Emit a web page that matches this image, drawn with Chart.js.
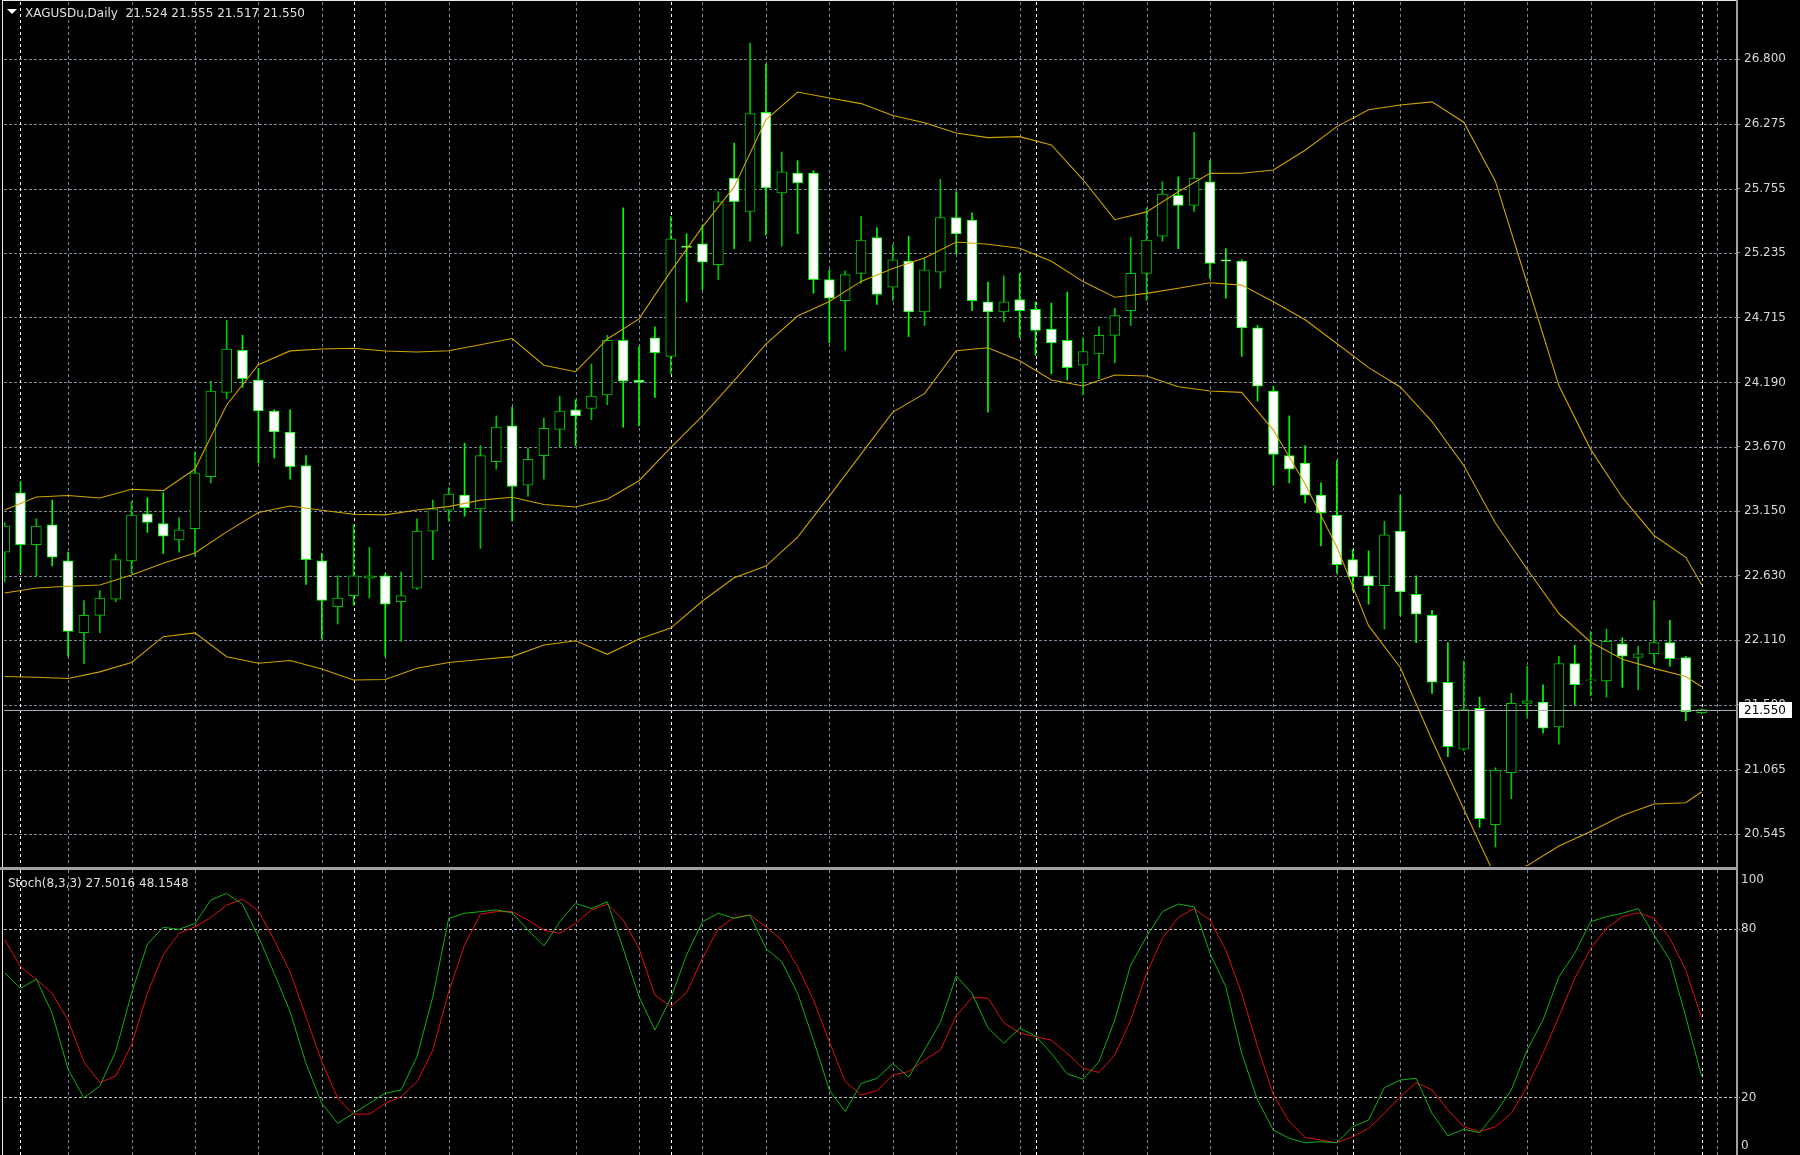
<!DOCTYPE html>
<html>
<head>
<meta charset="utf-8">
<script src="https://cdn.jsdelivr.net/npm/chart.js@4/dist/chart.umd.min.js"></script>
<style>
  html, body { margin: 0; padding: 0; background: #000; }
  #wrap { position: relative; width: 1800px; height: 1155px; overflow: hidden; background: #000; }
  canvas { position: absolute; left: 0; }
  #main { top: 0; }
  #stoch { top: 867px; }
  .hdr { position: absolute; font: 12px "DejaVu Sans", sans-serif; line-height: 14px; color: #e0e0e0; white-space: pre; }
  .tri { position: absolute; left: 7px; top: 9px; width: 0; height: 0;
         border-left: 5px solid transparent; border-right: 5px solid transparent; border-top: 5px solid #fff; }
</style>
</head>
<body>
<div id="wrap">
  <canvas id="main" width="1800" height="867"></canvas>
  <canvas id="stoch" width="1800" height="288"></canvas>
  <div class="tri"></div>
  <div class="hdr" style="left:25px;top:6px">XAGUSDu,Daily  21.524 21.555 21.517 21.550</div>
  <div class="hdr" style="left:8px;top:876px">Stoch(8,3,3) 27.5016 48.1548</div>
</div>
<script>
// daily candles, oldest first
const opens = [22.82,23.30,22.88,23.04,22.75,22.17,22.31,22.44,22.75,23.13,23.05,22.92,23.01,23.43,24.11,24.45,24.21,23.96,23.79,23.52,
  22.75,22.38,22.47,22.61,22.63,22.42,22.53,22.99,23.16,23.28,23.17,23.55,23.84,23.36,23.60,23.81,23.97,23.98,24.09,24.53,
  24.21,24.55,24.40,25.29,25.31,25.14,25.84,25.57,26.37,25.72,25.88,25.88,25.02,24.85,25.07,25.36,24.96,25.17,24.76,25.08,
  25.52,25.50,24.84,24.76,24.86,24.78,24.62,24.53,24.33,24.42,24.57,24.77,25.07,25.37,25.70,25.62,25.81,25.18,25.17,24.63,
  24.12,23.60,23.54,23.28,23.12,22.76,22.63,22.55,22.99,22.48,22.31,21.77,21.23,21.56,20.62,21.04,21.60,21.61,21.41,21.92,
  21.78,21.78,22.08,21.97,22.00,22.09,21.97,21.524];
const highs = [23.06,23.39,23.09,23.24,22.82,22.43,22.51,22.80,23.23,23.26,23.30,23.10,23.63,24.20,24.69,24.57,24.30,23.97,23.97,23.60,
  22.81,22.63,23.04,22.86,22.65,22.66,23.09,23.24,23.34,23.70,23.68,23.92,23.99,23.66,23.90,24.08,24.05,24.34,24.57,25.60,
  24.48,24.64,25.53,25.39,25.46,25.73,26.12,26.93,26.76,26.05,25.98,25.90,25.10,25.09,25.53,25.44,25.30,25.37,25.19,25.83,
  25.73,25.56,25.00,25.05,25.07,24.84,24.83,24.92,24.55,24.64,24.79,25.36,25.60,25.81,25.85,26.21,25.98,25.27,25.18,24.65,
  24.16,23.92,23.68,23.38,23.56,22.84,22.83,23.07,23.28,22.63,22.35,22.09,21.94,21.65,21.08,21.68,21.90,21.75,21.98,22.07,
  22.18,22.20,22.13,22.06,22.43,22.27,21.98,21.555];
const lows = [22.58,22.65,22.62,22.71,21.98,21.92,22.17,22.42,22.65,22.98,22.81,22.82,22.79,23.38,24.06,24.15,23.54,23.58,23.41,22.56,
  22.12,22.24,22.39,22.45,21.98,22.10,22.52,22.76,23.07,23.11,22.85,23.49,23.07,23.27,23.41,23.67,23.68,23.89,24.01,23.83,
  23.84,24.07,24.26,24.84,24.94,25.02,25.27,25.33,25.38,25.29,25.39,24.91,24.51,24.45,24.99,24.82,24.85,24.56,24.65,24.95,
  25.23,24.77,23.95,24.68,24.55,24.41,24.26,24.21,24.09,24.22,24.35,24.65,24.85,25.33,25.27,25.57,25.03,24.87,24.40,24.04,
  23.36,23.38,23.22,22.87,22.65,22.51,22.40,22.20,22.31,22.09,21.68,21.17,21.22,20.60,20.44,20.83,21.49,21.36,21.27,21.59,
  21.66,21.65,21.73,21.71,21.92,21.90,21.46,21.517];
const closes = [23.03,22.88,23.03,22.78,22.18,22.31,22.45,22.76,23.12,23.06,22.95,23.00,23.46,24.12,24.46,24.22,23.96,23.79,23.51,22.76,
  22.43,22.45,22.63,22.63,22.40,22.47,22.99,23.17,23.29,23.18,23.60,23.83,23.35,23.57,23.82,23.96,23.92,24.08,24.53,24.20,
  24.19,24.43,25.35,25.28,25.16,25.65,25.65,26.36,25.76,25.89,25.80,25.02,24.87,25.06,25.34,24.90,25.18,24.76,25.10,25.52,
  25.39,24.85,24.76,24.84,24.77,24.61,24.51,24.31,24.44,24.57,24.73,25.07,25.34,25.71,25.62,25.84,25.15,25.17,24.63,24.16,
  23.61,23.49,23.28,23.14,22.72,22.62,22.55,22.96,22.50,22.32,21.77,21.25,21.55,20.67,21.06,21.60,21.62,21.40,21.92,21.75,
  21.79,22.10,21.98,22.00,22.09,21.96,21.53,21.550];

// Bollinger bands read every second bar
const bandIdx = [0,2,4,6,8,10,12,14,16,18,20,22,24,26,28,30,32,34,36,38,40,42,44,46,48,50,52,54,56,58,
  60,62,64,66,68,70,72,74,76,78,80,82,84,86,88,90,92,94,96,98,100,102,104,106,107];
const upperBand = [23.160,23.265,23.277,23.257,23.328,23.317,23.491,24.008,24.334,24.445,24.460,24.466,24.444,24.436,24.446,
  24.494,24.545,24.329,24.277,24.541,24.703,25.087,25.446,25.768,26.310,26.534,26.486,26.441,26.345,26.287,26.203,26.166,
  26.174,26.107,25.826,25.504,25.567,25.729,25.878,25.879,25.905,26.064,26.255,26.391,26.429,26.455,26.291,25.813,24.989,
  24.165,23.650,23.262,22.955,22.779,22.557];
const middleBand = [22.490,22.531,22.545,22.555,22.636,22.730,22.813,22.984,23.140,23.193,23.159,23.126,23.121,23.160,23.188,
  23.240,23.263,23.205,23.185,23.247,23.397,23.664,23.920,24.204,24.499,24.726,24.843,25.006,25.110,25.194,25.324,25.306,
  25.273,25.169,25.004,24.878,24.909,24.950,24.995,24.976,24.842,24.696,24.505,24.310,24.154,23.874,23.520,23.055,22.682,
  22.325,22.095,21.956,21.882,21.817,21.734];
const lowerBand = [21.816,21.811,21.801,21.854,21.930,22.138,22.169,21.976,21.923,21.946,21.877,21.788,21.792,21.883,21.929,
  21.954,21.977,22.071,22.105,21.996,22.119,22.207,22.426,22.613,22.708,22.941,23.272,23.612,23.951,24.100,24.446,24.470,
  24.366,24.210,24.161,24.250,24.242,24.156,24.121,24.110,23.806,23.370,22.862,22.227,21.890,21.304,20.747,20.200,20.290,
  20.448,20.566,20.694,20.788,20.798,20.886];

// Stochastic (8,3,3)
const stochMain = [64.4,58.8,62.1,49.9,30.0,19.9,24.1,36.3,57.0,74.5,80.5,79.8,81.9,90.2,92.6,88.7,77.2,64.1,50.5,32.1,
  17.9,10.8,14.4,17.9,21.5,22.7,34.5,55.9,83.7,85.5,86.1,86.7,85.7,79.5,73.9,82.5,89.0,87.2,89.6,73.0,
  55.9,44.0,55.3,70.7,82.5,85.5,83.7,84.9,73.0,68.3,57.0,40.4,22.7,15.0,25.0,26.8,32.1,27.2,36.9,46.7,
  63.2,57.0,44.8,39.3,44.6,41.9,35.7,28.4,26.5,32.7,47.6,67.1,77.2,86.1,88.8,87.8,71.3,59.4,35.7,19.1,
  8.4,5.5,3.9,4.3,3.9,9.6,12.0,23.5,26.2,26.8,14.4,6.4,8.7,7.5,14.4,22.7,36.9,47.6,62.9,71.3,
  82.5,84.3,85.5,87.2,77.8,68.9,48.7,27.5];
const stochSignal = [76.2,66.5,62.0,57.0,47.5,32.7,25.3,27.6,38.7,57.0,70.7,78.4,80.7,84.0,88.4,90.5,86.4,76.0,64.7,48.7,
  32.7,19.7,14.1,14.1,17.9,20.3,25.6,36.9,57.6,74.2,85.2,86.1,86.1,83.1,79.5,78.4,81.9,86.7,88.8,83.1,
  73.0,56.4,52.3,57.3,69.5,80.1,84.0,84.9,80.7,76.0,66.5,54.7,39.8,25.6,20.9,22.4,28.0,29.2,33.3,36.9,
  49.0,55.6,55.3,46.6,43.0,41.6,40.4,35.7,30.4,28.9,35.1,47.6,64.1,76.6,84.0,87.2,83.1,72.4,57.0,38.1,
  20.9,11.4,5.8,4.9,3.9,6.1,9.0,14.4,20.3,25.3,22.7,15.6,9.6,7.9,9.6,14.4,23.9,35.7,48.7,62.4,
  73.0,80.1,84.3,85.7,83.7,76.6,65.3,48.2];

const priceTicks = [26.800,26.275,25.755,25.235,24.715,24.190,23.670,23.150,22.630,22.110,21.590,21.065,20.545];
const stochLevels = [80, 20];
const stochTickLabels = [100, 80, 20, 0];
const monthStarts = [1, 22, 42, 65, 85, 107];

const UP = '#00c400', DOWN = '#00ff00', BAND = '#cfa300', GRID = '#778899', AXIS = '#a0a0a0', TXT = '#d8d8d8';
const FONT = '12px "DejaVu Sans"';

Chart.defaults.font.family = 'DejaVu Sans';
Chart.defaults.font.size = 12;

const isUp = closes.map((c, i) => c >= opens[i]);
const pts = (xs, ys) => xs.map((x, k) => ({ x: x, y: ys[k] }));
const idx = opens.map((_, i) => i);

const xScale = { type: 'linear', min: -0.04, max: 109.23, offset: false, display: false };

// keep the plot area fixed: no label-driven padding on the price axis
function fixAxis(s) {
  s.width = 63;
  s.paddingTop = 0; s.paddingBottom = 0; s.paddingLeft = 0; s.paddingRight = 0;
}

function dashLine(ctx, x1, y1, x2, y2) {
  ctx.beginPath(); ctx.moveTo(x1, y1); ctx.lineTo(x2, y2); ctx.stroke();
}

// vertical grid: every 4th bar grey, month separators white
function drawVerticalGrid(chart) {
  const { ctx, chartArea: a, scales: { x } } = chart;
  ctx.save();
  ctx.lineWidth = 1;
  ctx.setLineDash([3, 3]);
  ctx.strokeStyle = GRID;
  for (let i = 4; i <= 108; i += 4) {
    const px = Math.round(x.getPixelForValue(i)) + 0.5;
    dashLine(ctx, px, a.top, px, a.bottom);
  }
  ctx.strokeStyle = '#ffffff';
  monthStarts.forEach(i => {
    const px = Math.round(x.getPixelForValue(i)) + 0.5;
    dashLine(ctx, px, a.top, px, a.bottom);
  });
  ctx.restore();
}

const mainPlugin = {
  id: 'mainDeco',
  beforeDatasetsDraw(chart) {
    const { ctx, chartArea: a, scales: { y } } = chart;
    ctx.save();
    ctx.lineWidth = 1;
    ctx.setLineDash([3, 2]);
    ctx.strokeStyle = GRID;
    priceTicks.forEach(v => {
      const py = Math.round(y.getPixelForValue(v)) + 0.5;
      dashLine(ctx, a.left, py, a.right, py);
    });
    ctx.restore();
    drawVerticalGrid(chart);
  },
  afterDatasetsDraw(chart) {
    const { ctx, chartArea: a, scales: { y } } = chart;
    const py = Math.round(y.getPixelForValue(closes[closes.length - 1])) + 0.5;
    ctx.save();
    ctx.strokeStyle = '#a8acb0';
    ctx.lineWidth = 1;
    dashLine(ctx, a.left, py, a.right, py);
    ctx.restore();
  },
  afterDraw(chart) {
    const { ctx, chartArea: a, scales: { y } } = chart;
    const last = closes[closes.length - 1];
    const py = Math.round(y.getPixelForValue(last));
    ctx.save();
    // frame
    ctx.fillStyle = '#e8e8e8';
    ctx.fillRect(2, 0, a.right - 2, 1);
    ctx.fillRect(2, 0, 1, chart.height);
    ctx.fillStyle = AXIS;
    ctx.fillRect(a.right - 1, 0, 2, chart.height);
    // last price box
    ctx.fillStyle = '#ffffff';
    ctx.fillRect(a.right + 2, py - 8, 53, 16);
    ctx.fillStyle = '#000000';
    ctx.font = FONT;
    ctx.textBaseline = 'middle';
    ctx.fillText(last.toFixed(3), a.right + 7, py + 1);
    ctx.restore();
  }
};

const stochPlugin = {
  id: 'stochDeco',
  beforeDatasetsDraw(chart) {
    const { ctx, chartArea: a, scales: { y } } = chart;
    ctx.save();
    ctx.lineWidth = 1;
    ctx.setLineDash([3, 2]);
    ctx.strokeStyle = '#c0c0c0';
    stochLevels.forEach(v => {
      const py = Math.round(y.getPixelForValue(v)) + 0.5;
      dashLine(ctx, a.left, py, a.right + 3, py);
    });
    ctx.restore();
    drawVerticalGrid(chart);
  },
  afterDraw(chart) {
    const { ctx, chartArea: a, scales: { y } } = chart;
    ctx.save();
    ctx.fillStyle = AXIS;
    ctx.fillRect(0, 0, a.right + 1, 3);
    ctx.fillRect(a.right - 1, 0, 2, chart.height);
    ctx.fillStyle = '#e8e8e8';
    ctx.fillRect(2, 3, 1, chart.height - 3);
    ctx.fillStyle = TXT;
    ctx.font = FONT;
    ctx.textBaseline = 'middle';
    stochTickLabels.forEach(v => {
      let py = y.getPixelForValue(v);
      py = Math.min(Math.max(py, a.top + 10), a.bottom - 9);
      ctx.fillText(String(v), a.right + 4, py);
    });
    ctx.restore();
  }
};

new Chart(document.getElementById('main'), {
  type: 'bar',
  data: {
    datasets: [
      { type: 'line', data: pts(bandIdx, upperBand), borderColor: BAND, borderWidth: 1.1, pointRadius: 0, tension: 0, order: 0 },
      { type: 'line', data: pts(bandIdx, middleBand), borderColor: BAND, borderWidth: 1.1, pointRadius: 0, tension: 0, order: 0 },
      { type: 'line', data: pts(bandIdx, lowerBand), borderColor: BAND, borderWidth: 1.1, pointRadius: 0, tension: 0, order: 0 },
      {
        data: idx.map(i => ({ x: i, y: [opens[i], closes[i]] })),
        backgroundColor: idx.map(i => isUp[i] ? '#000000' : '#ffffff'),
        borderColor: idx.map(i => isUp[i] ? UP : DOWN),
        borderWidth: 1, borderSkipped: false, barThickness: 10, minBarLength: 1, grouped: false, order: 1
      },
      {
        data: idx.map(i => ({ x: i, y: [lows[i], highs[i]] })),
        backgroundColor: idx.map(i => isUp[i] ? UP : DOWN),
        borderWidth: 0, barThickness: 1, grouped: false, order: 2
      }
    ]
  },
  options: {
    responsive: false, animation: false, devicePixelRatio: 1, events: [],
    layout: { padding: { left: 4, top: 2, right: 0, bottom: 1 } },
    plugins: { legend: { display: false }, tooltip: { enabled: false } },
    scales: {
      x: xScale,
      y: {
        position: 'right', min: 20.287, max: 27.261, bounds: 'data', beginAtZero: false,
        afterFit: fixAxis,
        afterBuildTicks: s => { s.ticks = priceTicks.map(v => ({ value: v })); },
        grid: { drawOnChartArea: false, drawTicks: true, tickLength: 3, tickColor: GRID, color: GRID },
        border: { display: false },
        ticks: { padding: 4, color: TXT, autoSkip: false, font: { family: 'DejaVu Sans', size: 12 }, callback: v => Number(v).toFixed(3) }
      }
    }
  },
  plugins: [mainPlugin]
});

new Chart(document.getElementById('stoch'), {
  type: 'line',
  data: {
    datasets: [
      { data: pts(idx, stochMain), borderColor: '#10b010', borderWidth: 1, pointRadius: 0, tension: 0 },
      { data: pts(idx, stochSignal), borderColor: '#e01010', borderWidth: 1, pointRadius: 0, tension: 0 }
    ]
  },
  options: {
    responsive: false, animation: false, devicePixelRatio: 1, events: [],
    layout: { padding: { left: 4, top: 3, right: 0, bottom: 0 } },
    plugins: { legend: { display: false }, tooltip: { enabled: false } },
    scales: {
      x: xScale,
      y: {
        position: 'right', min: -0.45, max: 100.9, bounds: 'data',
        afterFit: fixAxis,
        grid: { display: false }, border: { display: false }, ticks: { display: false }
      }
    }
  },
  plugins: [stochPlugin]
});
</script>
</body>
</html>
